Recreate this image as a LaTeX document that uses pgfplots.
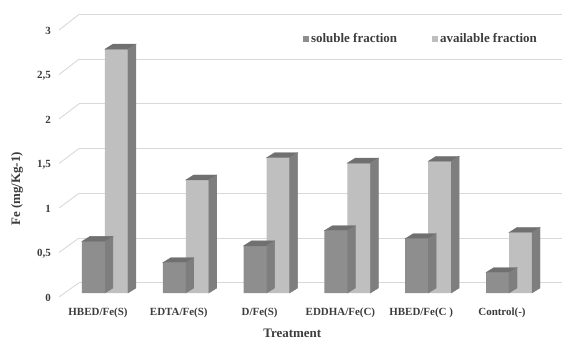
\documentclass[border=0pt]{standalone}
\usepackage{pgfplots}
\pgfplotsset{compat=1.18}
\usepackage{fontspec}
\setmainfont{Liberation Serif}
\definecolor{solfront}{HTML}{8E8E8E}
\definecolor{avafront}{HTML}{BFBFBF}
\definecolor{topc}{HTML}{707070}
\definecolor{sidec}{HTML}{7E7E7E}
\definecolor{gridc}{HTML}{D9D9D9}
\definecolor{txt}{HTML}{3C3C3C}
\pgfdeclareplotmark{capL}{%
  \pgfmathsetlengthmacro\hh{\rawy*89bp}%
  \fill[topc] (-23bp,0pt) -- (0bp,0pt) -- (8bp,5bp) -- (-15bp,5bp) -- cycle;
  \fill[sidec] (0bp,0pt) -- (8bp,5bp) -- (8bp,5bp-\hh) -- (0bp,-\hh) -- cycle;
}
\pgfdeclareplotmark{capR}{%
  \pgfmathsetlengthmacro\hh{\rawy*89bp}%
  \fill[topc] (0bp,0pt) -- (23bp,0pt) -- (31bp,5bp) -- (8bp,5bp) -- cycle;
  \fill[sidec] (23bp,0pt) -- (31bp,5bp) -- (31bp,5bp-\hh) -- (23bp,-\hh) -- cycle;
}
\pgfplotsset{sqlegend/.style={legend image code/.code={\fill[##1] (0bp,-3bp) rectangle (6bp,3bp);}}}
\pgfplotstableread{
x y
0 0.58
1 0.34
2 0.53
3 0.70
4 0.61
5 0.23
}\soluble
\pgfplotstableread{
x y
0 2.74
1 1.27
2 1.52
3 1.46
4 1.48
5 0.68
}\available
\begin{document}
\begin{tikzpicture}
\path[use as bounding box] (0,0) rectangle (562bp,345bp);
% back wall gridlines
\begin{axis}[
  scale only axis, width=483bp, height=268.2bp,
  at={(79bp,62.3bp)}, anchor=south west,
  xmin=0, xmax=1, ymin=0, ymax=3,
  ymajorgrids, ytick={0,0.5,...,3}, yticklabels={}, xtick=\empty,
  axis line style={draw=none}, tick style={draw=none},
  major grid style={draw=gridc, line width=0.9bp},
]
\addplot[draw=none] coordinates {(0,0)};
\end{axis}
\foreach \v in {0,0.5,...,3}{
  \draw[gridc, line width=0.9bp] (59bp,{(48+89*\v)*1bp}) -- (79bp,{(62.3+89.4*\v)*1bp});
}
% bars
\begin{axis}[
  scale only axis, width=505bp, height=267bp,
  at={(57bp,52bp)}, anchor=south west,
  xmin=-0.594, xmax=5.656, ymin=0, ymax=3,
  clip=false,
  axis line style={draw=none}, tick style={draw=none},
  ytick={0,0.5,...,3},
  xtick={0,...,5},
  xticklabels={HBED/Fe(S), EDTA/Fe(S), D/Fe(S), EDDHA/Fe(C), HBED/Fe(C ), Control(-)},
  /pgf/number format/.cd, use comma, assume math mode=true, /pgfplots/.cd,
  yticklabel style={anchor=base east, inner sep=0pt, xshift=-6bp, yshift=-8bp, font=\fontsize{11}{13}\selectfont\bfseries, text=txt},
  xticklabel style={anchor=base, inner sep=0pt, xshift=-7bp, yshift=-22bp, font=\fontsize{11}{13}\selectfont\bfseries, text=txt},
  xlabel={Treatment}, ylabel={Fe (mg/Kg-1)},
  xlabel style={at={(axis description cs:0.466,-0.150)}, anchor=center, font=\fontsize{13}{15}\selectfont\bfseries, text=txt},
  ylabel style={at={(axis description cs:-0.0792,0.3895)}, anchor=center, rotate=0, font=\fontsize{13}{15}\selectfont\bfseries, text=txt},
  legend style={at={(0.487,0.951)}, anchor=west, draw=none, fill=none, inner sep=0pt,
    legend columns=2, font=\fontsize{13}{15}\selectfont\bfseries, text=txt,
    /tikz/every even column/.append style={column sep=33bp}},
  legend cell align=left,
]
\addplot[ybar, bar width=23bp, bar shift=-11.5bp, fill=solfront, draw=none, sqlegend] table[x=x,y=y] {\soluble};
\addlegendentry{soluble fraction}
\addplot[only marks, mark=capL, forget plot, visualization depends on={rawy \as \rawy}] table[x=x,y=y] {\soluble};
\addplot[ybar, bar width=23bp, bar shift=11.5bp, fill=avafront, draw=none, sqlegend] table[x=x,y=y] {\available};
\addlegendentry{available fraction}
\addplot[only marks, mark=capR, forget plot, visualization depends on={rawy \as \rawy}] table[x=x,y=y] {\available};
\end{axis}
\end{tikzpicture}
\end{document}
